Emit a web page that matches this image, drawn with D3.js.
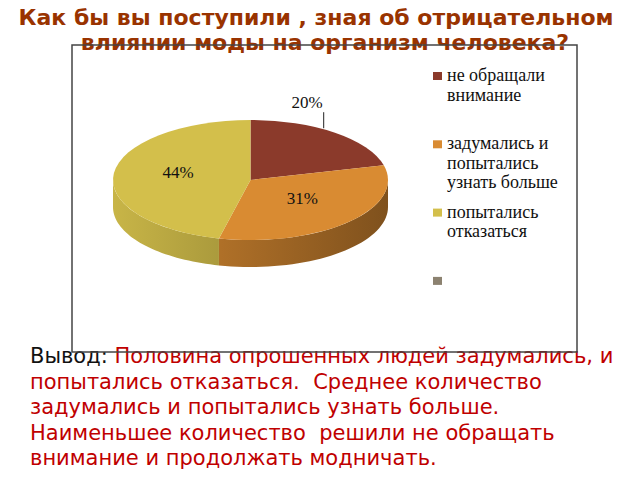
<!DOCTYPE html>
<meta charset="utf-8">
<style>
body { margin: 0; background: #fff; }
.title { font: bold 22px "DejaVu Sans", sans-serif; fill: #993300; text-anchor: middle; }
.legend text { font: 18px "Liberation Serif", serif; fill: #111; }
.label { font: 17px "Liberation Serif", serif; fill: #111; }
.note { font: 21px "DejaVu Sans", sans-serif; fill: #c00000; white-space: pre; }
</style>
<svg width="640" height="480"></svg>
<script src="https://d3js.org/d3.v7.min.js"></script>
<script>

var categories = ["не обращали внимание", "задумались и попытались узнать больше", "попытались отказаться", ""];
var values = [20, 31, 44, 0];
var colors = ["#8b3a2b", "#d98b32", "#d3bf4b", "#8c8270"];
var legendLines = [["не обращали", "внимание"], ["задумались и", "попытались", "узнать больше"], ["попытались", "отказаться"], []];
var titleLines = ["Как бы вы поступили , зная об отрицательном", "влиянии моды на организм человека?"];
var noteLines = [
  "Половина опрошенных людей задумались, и",
  "попытались отказаться.  Среднее количество",
  "задумались и попытались узнать больше.",
  "Наименьшее количество  решили не обращать",
  "внимание и продолжать модничать."
];

var svg = d3.select("svg");

// title
svg.selectAll(".title")
  .data(titleLines)
  .enter().append("text")
    .attr("class", "title")
    .attr("x", function(d, i) { return i ? 325 : 316; })
    .attr("y", function(d, i) { return 25 + i * 25; })
    .text(function(d) { return d; });

// conclusion text
var note = svg.append("text").attr("class", "note").attr("xml:space", "preserve");
noteLines.forEach(function(line, i) {
  var t = note.append("tspan").attr("x", 30).attr("y", 363 + i * 25.5);
  if (i === 0) t.append("tspan").style("fill", "#111").text("Вывод: ");
  t.append("tspan").text(line);
});

// 3d pie
var cx = 250.5, cy = 180, rx = 137.5, ry = 60, depth = 27;

var pie = d3.pie().sort(null).value(function(d) { return d; });
var arcs = pie(values);

function pt(t, dy) { return [rx * Math.sin(t), -ry * Math.cos(t) + (dy || 0)]; }

var defs = svg.append("defs");
colors.forEach(function(c, i) {
  var g = defs.append("linearGradient")
      .attr("id", "side" + i)
      .attr("gradientUnits", "userSpaceOnUse")
      .attr("x1", -rx).attr("x2", rx).attr("y1", 0).attr("y2", 0);
  g.append("stop").attr("offset", 0).attr("stop-color", d3.color(c).darker(0.15));
  g.append("stop").attr("offset", 1).attr("stop-color", d3.color(c).darker(1.5));
});

var chart = svg.append("g").attr("transform", "translate(" + cx + "," + cy + ")");

// visible sides (front half of the ellipse)
var line = d3.line();
arcs.forEach(function(a, i) {
  var a0 = Math.max(a.startAngle, Math.PI / 2), a1 = Math.min(a.endAngle, Math.PI * 1.5);
  if (a1 <= a0) return;
  var pts = [], n = 40, k;
  for (k = 0; k <= n; k++) pts.push(pt(a0 + (a1 - a0) * k / n));
  for (k = n; k >= 0; k--) pts.push(pt(a0 + (a1 - a0) * k / n, depth));
  chart.append("path")
    .attr("d", line(pts) + "Z")
    .attr("fill", "url(#side" + i + ")");
});

// top faces
var arc = d3.arc().innerRadius(0).outerRadius(rx);
chart.append("g")
    .attr("transform", "scale(1," + (ry / rx) + ")")
  .selectAll("path")
  .data(arcs.filter(function(a) { return a.value > 0; }))
  .enter().append("path")
    .attr("d", arc)
    .attr("fill", function(d) { return colors[d.index]; });

// data labels
arcs.forEach(function(a, i) {
  if (!a.value) return;
  var mid = (a.startAngle + a.endAngle) / 2;
  if (i === 0) {
    var e = pt(mid - 0.1);
    chart.append("line")
      .attr("x1", e[0]).attr("x2", e[0])
      .attr("y1", e[1] - 1).attr("y2", e[1] - 17)
      .attr("stroke", "#222").attr("stroke-width", 1);
    chart.append("text").attr("class", "label")
      .attr("x", e[0] - 1).attr("y", e[1] - 21)
      .attr("text-anchor", "end")
      .text(a.value + "%");
  } else {
    var c = pt(mid), f = 0.53;
    chart.append("text").attr("class", "label")
      .attr("x", c[0] * f).attr("y", c[1] * f + 2)
      .attr("text-anchor", "middle")
      .text(a.value + "%");
  }
});

// legend
var legend = svg.append("g").attr("class", "legend");
var item = legend.selectAll("g")
  .data(legendLines)
  .enter().append("g")
    .attr("transform", function(d, i) { return "translate(433," + (76 + i * 68.3) + ")"; });
item.append("rect")
    .attr("x", 0).attr("y", -4)
    .attr("width", 9).attr("height", 8)
    .attr("fill", function(d, i) { return colors[i]; });
item.append("text")
  .selectAll("tspan")
  .data(function(d) { return d; })
  .enter().append("tspan")
    .attr("x", 14)
    .attr("y", function(d, j) { return 5 + j * 19.5; })
    .text(function(d) { return d; });

// chart frame
svg.append("rect")
    .attr("x", 72).attr("y", 45)
    .attr("width", 505).attr("height", 307)
    .attr("fill", "none")
    .attr("stroke", "#444")
    .attr("stroke-width", 1.5);

</script>
